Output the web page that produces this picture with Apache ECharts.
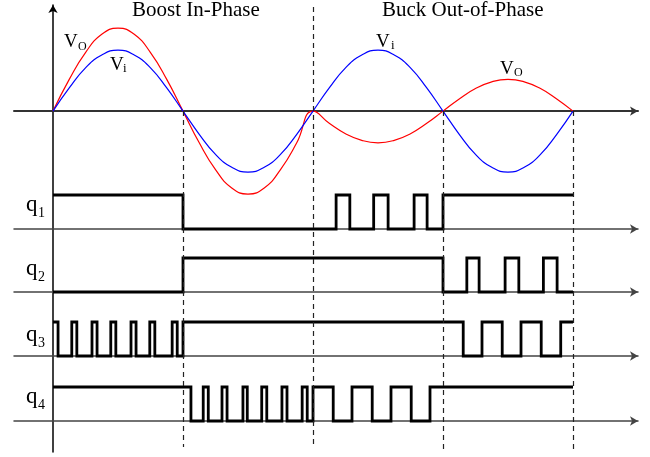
<!DOCTYPE html>
<html lang="en">
<head>
<meta charset="UTF-8">
<title>Boost In-Phase / Buck Out-of-Phase</title>
<style>
  html, body { margin: 0; padding: 0; background: #fff; }
  #main { width: 650px; height: 457px; }
</style>
</head>
<body>
<div id="main"></div>
<script src="https://cdn.jsdelivr.net/npm/echarts@6/dist/echarts.min.js"></script>
<script>
// time axis in degrees, one half cycle = 180
var angles = [0, 22.5, 45, 67.5, 90, 112.5, 135, 157.5, 180, 202.5, 225, 247.5, 270, 292.5, 315, 337.5,
              360, 382.5, 405, 427.5, 450, 472.5, 495, 517.5, 540, 562.5, 585, 607.5, 630, 652.5, 675, 697.5, 720];
// input voltage (blue), Vi peak = 1
var vi = [0, 0.38, 0.71, 0.92, 1, 0.92, 0.71, 0.38, 0, -0.38, -0.71, -0.92, -1, -0.92, -0.71, -0.38,
          0, 0.38, 0.71, 0.92, 1, 0.92, 0.71, 0.38, 0, -0.38, -0.71, -0.92, -1, -0.92, -0.71, -0.38, 0];
// output voltage (red)
var vo = [0, 0.52, 0.96, 1.26, 1.36, 1.26, 0.96, 0.52, 0, -0.52, -0.96, -1.26, -1.36, -1.26, -0.96, -0.52,
          0, -0.2, -0.37, -0.48, -0.52, -0.48, -0.37, -0.2, 0, 0.2, 0.37, 0.48, 0.52, 0.48, 0.37, 0.2, 0];

// switching signals: edge times (deg) and the level held from that edge on
var q1Edges  = [0, 180, 392, 411, 444, 464, 500, 518, 540, 720];
var q1Levels = [1, 0, 1, 0, 1, 0, 1, 0, 1, 1];
var q2Edges  = [0, 180, 540, 573, 590, 626, 645, 679, 698, 720];
var q2Levels = [0, 1, 0, 1, 0, 1, 0, 1, 0, 0];
var q3Edges  = [0, 7, 26, 33, 54, 61, 80, 87, 108, 115, 134, 141, 165, 172, 180, 568, 594, 622, 648, 676, 703, 720];
var q3Levels = [1, 0, 1, 0, 1, 0, 1, 0, 1, 0, 1, 0, 1, 0, 1, 0, 1, 0, 1, 0, 1, 1];
var q4Edges  = [0, 191, 208, 215, 234, 241, 263, 269, 289, 296, 317, 324, 345, 352, 360, 388, 414, 442, 468, 496, 522, 720];
var q4Levels = [1, 0, 1, 0, 1, 0, 1, 0, 1, 0, 1, 0, 1, 0, 1, 0, 1, 0, 1, 0, 1, 1];

var phaseBounds = [180, 360, 540, 720];
var titles = ['Boost In-Phase', 'Buck Out-of-Phase'];
var qSubs = ['1', '2', '3', '4'];

function zip(xs, ys) {
    var out = [];
    for (var i = 0; i < xs.length; i++) out.push([xs[i], ys[i]]);
    return out;
}

var serif = '"Liberation Serif", "Times New Roman", serif';
var X_MIN = -54, X_MAX = 810;
var Y_TOP = 1.74, Y_BOT = -5.59;   // sine panel spans whole height
var baselines = [229, 292, 356, 421]; // pixel rows of the q axes
var LEVEL_PX = 34;

var grids = [{ left: 14, right: 12, top: 5, height: 447 }];
var xAxes = [], yAxes = [];
function xAx(i, width, color) {
    return {
        type: 'value', gridIndex: i, min: X_MIN, max: X_MAX,
        axisLine: { show: true, onZero: true, symbol: ['none', 'arrow'], symbolSize: [7, 8],
                    lineStyle: { color: color, width: width } },
        axisTick: { show: false }, axisLabel: { show: false }, splitLine: { show: false }
    };
}
xAxes.push(xAx(0, 2, '#333'));
yAxes.push({
    type: 'value', gridIndex: 0, min: Y_BOT, max: Y_TOP,
    axisLine: { show: true, onZero: true, symbol: ['none', 'arrow'], symbolSize: [7, 8],
                lineStyle: { color: '#000', width: 1.5 } },
    axisTick: { show: false }, axisLabel: { show: false }, splitLine: { show: false }
});
baselines.forEach(function (b, k) {
    grids.push({ left: 14, right: 12, top: b - 1.2 * LEVEL_PX, height: 1.4 * LEVEL_PX });
    xAxes.push(xAx(k + 1, 1.5, '#444'));
    yAxes.push({ type: 'value', gridIndex: k + 1, min: -0.2, max: 1.2, show: false });
});

var pxPerUnit = 447 / (Y_TOP - Y_BOT);
function yAt(px) { return (111 - px) / pxPerUnit; }
var dashData = phaseBounds.map(function (t) {
    var top = t === 360 ? yAt(7) : 0;
    var bot = t === 180 || t === 360 ? yAt(447) : yAt(450);
    return [{ coord: [t, top] }, { coord: [t, bot] }];
});

var qSets = [[q1Edges, q1Levels], [q2Edges, q2Levels], [q3Edges, q3Levels], [q4Edges, q4Levels]];
var series = [
    {
        type: 'line', xAxisIndex: 0, yAxisIndex: 0, data: zip(angles, vo), smooth: true,
        symbol: 'none', lineStyle: { color: '#ff0000', width: 1.2 }, clip: false
    },
    {
        type: 'line', xAxisIndex: 0, yAxisIndex: 0, data: zip(angles, vi), smooth: true,
        symbol: 'none', lineStyle: { color: '#0000ff', width: 1.2 }, clip: false,
        markLine: {
            silent: true, symbol: 'none', label: { show: false },
            lineStyle: { type: [5, 4], color: '#222', width: 1.2 },
            data: dashData
        }
    }
];
qSets.forEach(function (s, k) {
    series.push({
        type: 'line', xAxisIndex: k + 1, yAxisIndex: k + 1, data: zip(s[0], s[1]), step: 'end',
        symbol: 'none', clip: false, lineStyle: { color: '#000', width: 2.8, join: 'miter' }
    });
});

function txt(x, y, s, size) {
    return { type: 'text', x: x, y: y, z: 100,
             style: { text: s, font: size + 'px ' + serif, fill: '#000', align: 'left', verticalAlign: 'middle' } };
}
var graphics = [
    txt(132, 10, titles[0], 21),
    txt(382, 10, titles[1], 21),
    txt(64, 42, 'V', 19), txt(78, 47, 'O', 12),
    txt(110, 65, 'V', 19), txt(123, 69, 'i', 13),
    txt(376, 42, 'V', 19), txt(391, 46, 'i', 13),
    txt(500, 69, 'V', 19), txt(514, 73, 'O', 12)
];
var qLabelMid = [205, 269, 335, 397];
qSubs.forEach(function (d, k) {
    graphics.push(txt(26, qLabelMid[k], 'q', 23));
    graphics.push(txt(38, qLabelMid[k] + 8, d, 14));
});

var myChart = echarts.init(document.getElementById('main'));
myChart.setOption({
    animation: false,
    grid: grids,
    xAxis: xAxes,
    yAxis: yAxes,
    series: series,
    graphic: graphics
});
</script>
</body>
</html>
